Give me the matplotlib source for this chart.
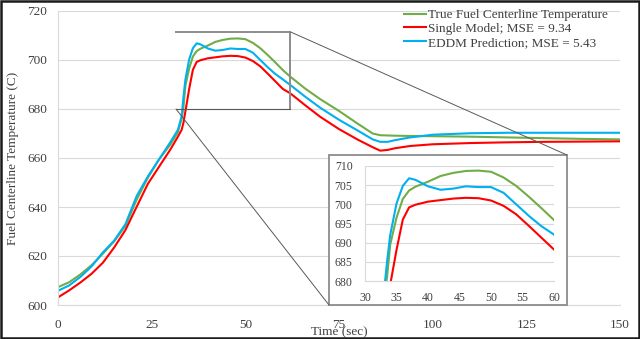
import matplotlib
matplotlib.use("Agg")
import matplotlib.pyplot as plt
from matplotlib.patches import Rectangle, ConnectionPatch

# time axis (sec) and the three temperature traces (C)
time = [0, 3, 6, 9, 12, 15, 18, 21, 24, 27, 30, 32, 33, 33.5, 34, 35, 36, 37, 38,
        40, 42, 44, 46, 48, 50, 52, 54, 56, 58, 60, 62, 66, 70, 75, 80, 84, 86,
        88, 90, 94, 100, 110, 120, 130, 140, 150]
true_temp = [607.3, 609.3, 612.5, 616.3, 621.0, 626.0, 632.3, 643.0, 652.0, 659.5,
             665.5, 670.5, 676.0, 681.0, 689.5, 696.5, 701.4, 703.6, 704.6,
             705.9, 707.4, 708.2, 708.7, 708.8, 708.5, 707.0, 704.8, 702.0, 699.0,
             695.9, 693.2, 688.3, 684.0, 679.2, 674.0, 670.0, 669.3, 669.2, 669.1,
             669.0, 668.9, 668.7, 668.4, 668.1, 667.8, 667.6]
single_model = [603.1, 606.0, 609.2, 612.8, 617.3, 623.5, 630.6, 640.1, 649.5, 656.5,
                663.5, 668.7, 671.5, 674.5, 679.0, 688.1, 696.0, 699.2, 699.9,
                700.7, 701.1, 701.5, 701.7, 701.6, 701.0, 699.6, 697.4, 694.4, 691.3,
                688.2, 686.4, 681.5, 676.8, 671.8, 667.5, 664.4, 663.0, 663.3, 664.0,
                664.9, 665.6, 666.1, 666.4, 666.6, 666.7, 666.8]
eddm = [605.8, 608.0, 611.5, 615.8, 621.5, 626.3, 633.0, 644.5, 652.5, 659.5,
        666.5, 671.5, 677.0, 685.0, 692.0, 700.2, 704.8, 706.8, 706.4,
        704.7, 703.8, 704.1, 704.7, 704.5, 704.5, 703.0, 700.0, 697.0, 694.3,
        692.1, 689.8, 685.0, 680.5, 675.6, 671.2, 667.6, 666.6, 666.6, 667.3,
        668.4, 669.5, 670.1, 670.3, 670.3, 670.3, 670.3]

labels = ['True Fuel Centerline Temperature', 'Single Model; MSE = 9.34',
          'EDDM Prediction; MSE = 5.43']
colors = ['#70AD47', '#FF0000', '#00B0F0']
series = [true_temp, single_model, eddm]

x_ticks = [0, 25, 50, 75, 100, 125, 150]
y_ticks = [600, 620, 640, 660, 680, 700, 720]
inset_x_ticks = [30, 35, 40, 45, 50, 55, 60]
inset_y_ticks = [680, 685, 690, 695, 700, 705, 710]
zoom_box = (31.5, 62, 680, 711.5)

plt.rcParams['font.family'] = ['Liberation Serif', 'DejaVu Serif']
TXT = '#404040'
GRID = '#D9D9D9'

W, H = 640, 339
fig = plt.figure(figsize=(W / 100, H / 100), dpi=100)
ax = fig.add_axes([58 / W, 1 - 305 / H, 562 / W, 294 / H])

for vals, c, lab in zip(series, colors, labels):
    ax.plot(time, vals, color=c, lw=1.5, label=lab)

ax.set_xlim(0, 150)
ax.set_ylim(600, 720)
ax.set_xticks(x_ticks)
ax.set_yticks(y_ticks)
ax.grid(axis='y', color=GRID, lw=0.8)
ax.set_axisbelow(True)
ax.tick_params(length=0, labelsize=9.5, colors=TXT)
ax.tick_params(axis='x', pad=10)
ax.tick_params(axis='y', pad=8)
for s in ['top', 'right']:
    ax.spines[s].set_visible(False)
for s in ['left', 'bottom']:
    ax.spines[s].set_color(GRID)
    ax.spines[s].set_linewidth(0.8)
ax.set_xlabel('Time (sec)', fontsize=9.5, color=TXT, labelpad=-3)
ax.set_ylabel('Fuel Centerline Temperature (C)', fontsize=9.5, color=TXT, labelpad=6)

ax.legend(loc='upper left', bbox_to_anchor=(404 / W, 1 - 9 / H),
          bbox_transform=fig.transFigure, frameon=False, fontsize=9.5,
          handlelength=1.7, handletextpad=0.15, labelspacing=0.12,
          borderpad=0, borderaxespad=0, labelcolor=TXT)

# zoom rectangle on main plot (top, right and bottom edges)
x0, x1, y0, y1 = zoom_box
ax.plot([x0, x1, x1], [y1, y1, y0], color='#8C8C8C', lw=1.4, zorder=5)
ax.plot([x0, x1], [y0, y0], color='#595959', lw=0.8, zorder=5)

# inset frame
fig.patches.append(Rectangle((329 / W, 1 - 305 / H), 238 / W, 150 / H,
                             transform=fig.transFigure, facecolor='white',
                             edgecolor='#8C8C8C', lw=1.3, zorder=2))

for xa, ya, xb, yb in [(x1, y1, 567 / W, 1 - 155 / H), (x0, y0, 329 / W, 1 - 305 / H)]:
    con = ConnectionPatch(xyA=(xa, ya), coordsA='data', axesA=ax,
                          xyB=(xb, yb), coordsB='figure fraction',
                          color='#595959', lw=0.7, zorder=6)
    fig.add_artist(con)

ins = fig.add_axes([365 / W, 1 - 281 / H, 189 / W, 115 / H], zorder=3)
ins.patch.set_alpha(0)
for vals, c in zip(series, colors):
    ins.plot(time, vals, color=c, lw=1.5)
ins.set_xlim(30, 60)
ins.set_ylim(680, 710)
ins.set_xticks(inset_x_ticks)
ins.set_yticks(inset_y_ticks)
ins.grid(axis='y', color=GRID, lw=0.8)
ins.set_axisbelow(True)
ins.tick_params(length=0, labelsize=8.5, colors=TXT)
ins.tick_params(axis='x', pad=8)
ins.tick_params(axis='y', pad=9)
for s in ['top', 'right']:
    ins.spines[s].set_visible(False)
for s in ['left', 'bottom']:
    ins.spines[s].set_color(GRID)
    ins.spines[s].set_linewidth(0.8)

# outer border of the picture
fig.patches.append(Rectangle((0.0015, 0.003), 0.997, 0.994, transform=fig.transFigure,
                             fill=False, edgecolor='#1A1A1A', lw=1.8, zorder=10))

fig.savefig('out.png', dpi=100)
